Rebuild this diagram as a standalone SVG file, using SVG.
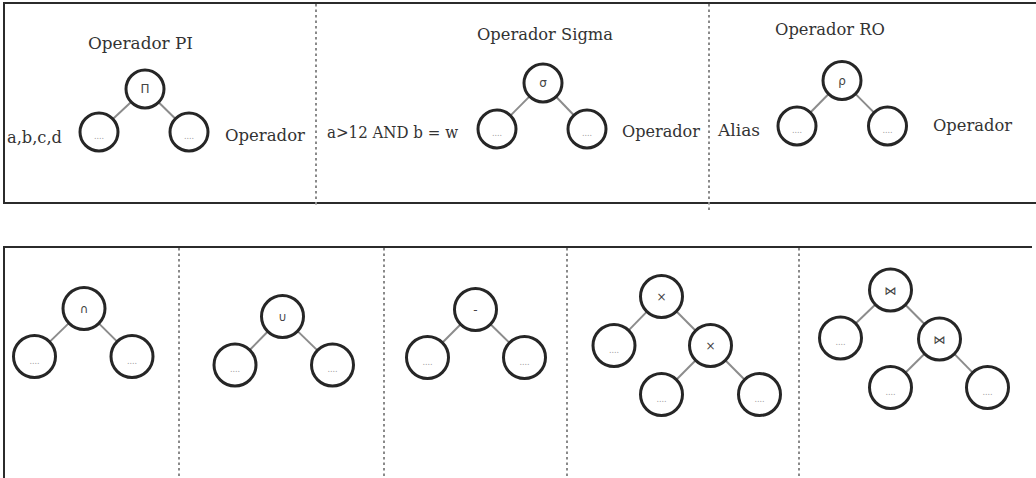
<svg xmlns="http://www.w3.org/2000/svg" width="1036" height="478" viewBox="0 0 1036 478">
<style>
.frame{fill:none;stroke:#2b2b2b;stroke-width:2}
.sep{stroke:#8a8a8a;stroke-width:2;stroke-dasharray:2.5 3}
.n circle{fill:#fff;stroke:#262626;stroke-width:3}
.s circle{fill:#fff;stroke:#262626;stroke-width:3}
.lbl{font-family:"DejaVu Serif","Liberation Serif",serif;font-size:16px;fill:#333}
.sym{font-family:"DejaVu Sans","Liberation Sans",sans-serif;font-size:12px;fill:#444;text-anchor:middle}
.dots{font-family:"DejaVu Sans","Liberation Sans",sans-serif;font-size:8px;fill:#9a9a9a;text-anchor:middle}
.edge line{stroke:#8c8c8c;stroke-width:2}
</style>
<rect width="1036" height="478" fill="#fff"/>
<g id="frames">
<rect class="frame" x="4" y="3" width="1040" height="200"/>
<path class="frame" d="M4,480 V247 H1032"/>
<line class="sep" x1="316" y1="4" x2="316" y2="206"/>
<line class="sep" x1="709" y1="4" x2="709" y2="210"/>
<line class="sep" x1="179" y1="248" x2="179" y2="478"/>
<line class="sep" x1="384" y1="248" x2="384" y2="478"/>
<line class="sep" x1="567" y1="248" x2="567" y2="478"/>
<line class="sep" x1="799" y1="248" x2="799" y2="478"/>
</g>
<g id="labels">
<text class="lbl" x="88" y="49" textLength="105" lengthAdjust="spacingAndGlyphs">Operador PI</text>
<text class="lbl" x="7" y="143" textLength="55" lengthAdjust="spacingAndGlyphs">a,b,c,d</text>
<text class="lbl" x="225" y="141" textLength="80" lengthAdjust="spacingAndGlyphs">Operador</text>
<text class="lbl" x="477" y="40" textLength="136" lengthAdjust="spacingAndGlyphs">Operador Sigma</text>
<text class="lbl" x="327" y="138" textLength="131" lengthAdjust="spacingAndGlyphs">a&gt;12 AND b = w</text>
<text class="lbl" x="622" y="137" textLength="78" lengthAdjust="spacingAndGlyphs">Operador</text>
<text class="lbl" x="775" y="35" textLength="110" lengthAdjust="spacingAndGlyphs">Operador RO</text>
<text class="lbl" x="718" y="136" textLength="42" lengthAdjust="spacingAndGlyphs">Alias</text>
<text class="lbl" x="933" y="131" textLength="79" lengthAdjust="spacingAndGlyphs">Operador</text>
</g>
<g id="connectors" class="edge">
<line x1="131.1" y1="102" x2="112.9" y2="119"/>
<line x1="158.6" y1="102.3" x2="175.4" y2="118.7"/>
<line x1="529.6" y1="96.4" x2="510.4" y2="115.6"/>
<line x1="556.1" y1="96.7" x2="573.9" y2="115.3"/>
<line x1="828.6" y1="94" x2="810.4" y2="112.5"/>
<line x1="855.4" y1="93.9" x2="874.1" y2="112.6"/>
<line x1="68.9" y1="323.1" x2="49.6" y2="341.9"/>
<line x1="98.8" y1="323.4" x2="117.2" y2="341.6"/>
<line x1="267.8" y1="331.5" x2="249.7" y2="350"/>
<line x1="297.6" y1="331.1" x2="317.4" y2="350.4"/>
<line x1="460.7" y1="324.3" x2="442.3" y2="342.7"/>
<line x1="490.5" y1="324.2" x2="509.5" y2="342.8"/>
<line x1="646.9" y1="311.6" x2="628.6" y2="330.4"/>
<line x1="676.3" y1="311.3" x2="695.7" y2="330.7"/>
<line x1="695.7" y1="360.3" x2="676.3" y2="379.7"/>
<line x1="725.3" y1="360.3" x2="744.7" y2="379.7"/>
<line x1="875.4" y1="304.6" x2="855.6" y2="323.4"/>
<line x1="905.3" y1="304.8" x2="924.7" y2="324.2"/>
<line x1="924.6" y1="353.8" x2="905.4" y2="372.7"/>
<line x1="954.3" y1="353.9" x2="972.7" y2="372.6"/>
</g>
<g id="pi-root" class="n"><circle cx="145" cy="89" r="19"/><text class="sym" x="145" y="93">Π</text></g>
<g id="pi-left" class="n"><circle cx="99" cy="132" r="19"/><text class="dots" x="99" y="139">....</text></g>
<g id="pi-right" class="n"><circle cx="189" cy="132" r="19"/><text class="dots" x="189" y="139">....</text></g>
<g id="sigma-root" class="n"><circle cx="543" cy="83" r="19"/><text class="sym" x="543" y="87">σ</text></g>
<g id="sigma-left" class="n"><circle cx="497" cy="129" r="19"/><text class="dots" x="497" y="136">....</text></g>
<g id="sigma-right" class="n"><circle cx="587" cy="129" r="19"/><text class="dots" x="587" y="136">....</text></g>
<g id="rho-root" class="n"><circle cx="842" cy="80.5" r="19"/><text class="sym" x="842" y="85">ρ</text></g>
<g id="rho-left" class="n"><circle cx="797" cy="126" r="19"/><text class="dots" x="797" y="133">....</text></g>
<g id="rho-right" class="n"><circle cx="887.5" cy="126" r="19"/><text class="dots" x="887.5" y="133">....</text></g>
<g id="inter-root" class="s"><circle cx="84" cy="308.5" r="21"/><text class="sym" x="84" y="313">∩</text></g>
<g id="inter-left" class="s"><circle cx="34.5" cy="356.5" r="21"/><text class="dots" x="34.5" y="364">....</text></g>
<g id="inter-right" class="s"><circle cx="132" cy="356.5" r="21"/><text class="dots" x="132" y="364">....</text></g>
<g id="union-root" class="s"><circle cx="282.5" cy="316.5" r="21"/><text class="sym" x="282.5" y="321">∪</text></g>
<g id="union-left" class="s"><circle cx="235" cy="365" r="21"/><text class="dots" x="235" y="372">....</text></g>
<g id="union-right" class="s"><circle cx="332.5" cy="365" r="21"/><text class="dots" x="332.5" y="372">....</text></g>
<g id="minus-root" class="s"><circle cx="475.5" cy="309.5" r="21"/><text class="sym" x="475.5" y="314">-</text></g>
<g id="minus-left" class="s"><circle cx="427.5" cy="357.5" r="21"/><text class="dots" x="427.5" y="365">....</text></g>
<g id="minus-right" class="s"><circle cx="524.5" cy="357.5" r="21"/><text class="dots" x="524.5" y="365">....</text></g>
<g id="prod-root" class="s"><circle cx="661.5" cy="296.5" r="21"/><text class="sym" x="661.5" y="301">×</text></g>
<g id="prod-left" class="s"><circle cx="614" cy="345.5" r="21"/><text class="dots" x="614" y="353">....</text></g>
<g id="prod-mid" class="s"><circle cx="710.5" cy="345.5" r="21"/><text class="sym" x="710.5" y="350">×</text></g>
<g id="prod-bl" class="s"><circle cx="661.5" cy="394.5" r="21"/><text class="dots" x="661.5" y="402">....</text></g>
<g id="prod-br" class="s"><circle cx="759.5" cy="394.5" r="21"/><text class="dots" x="759.5" y="402">....</text></g>
<g id="join-root" class="s"><circle cx="890.5" cy="290" r="21"/><text class="sym" x="890.5" y="294.5">⋈</text></g>
<g id="join-left" class="s"><circle cx="840.5" cy="338" r="21"/><text class="dots" x="840.5" y="345">....</text></g>
<g id="join-mid" class="s"><circle cx="939.5" cy="339" r="21"/><text class="sym" x="939.5" y="343.5">⋈</text></g>
<g id="join-bl" class="s"><circle cx="890.5" cy="387.5" r="21"/><text class="dots" x="890.5" y="395">....</text></g>
<g id="join-br" class="s"><circle cx="987.5" cy="387.5" r="21"/><text class="dots" x="987.5" y="395">....</text></g>
</svg>
